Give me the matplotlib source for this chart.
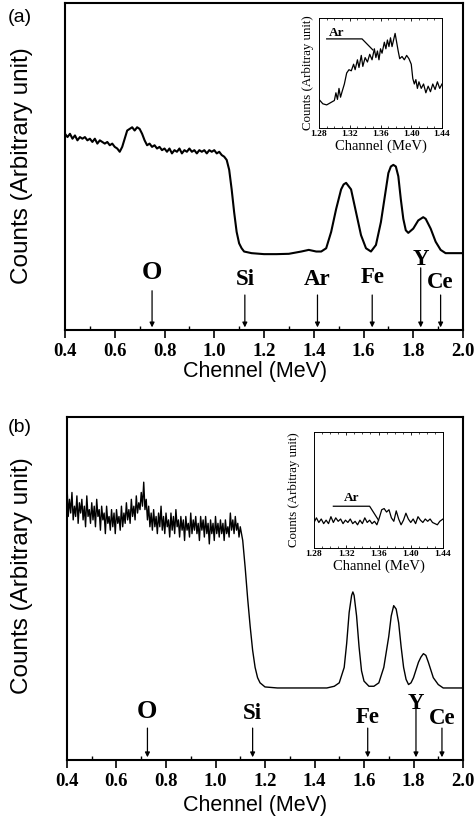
import matplotlib
matplotlib.use("Agg")
import matplotlib.pyplot as plt
from matplotlib.ticker import MultipleLocator

# ---- panel (a) spectrum ----
energy_a = [0.40, 0.41, 0.42, 0.43, 0.44, 0.45, 0.46, 0.47, 0.48, 0.49,
            0.50, 0.51, 0.52, 0.53, 0.54, 0.55, 0.56, 0.57, 0.58, 0.59,
            0.60, 0.61, 0.62, 0.63, 0.64, 0.65, 0.66, 0.67, 0.68, 0.69,
            0.70, 0.71, 0.72, 0.73, 0.74, 0.75, 0.76, 0.77, 0.78, 0.79,
            0.80, 0.81, 0.82, 0.83, 0.84, 0.85, 0.86, 0.87, 0.88, 0.89,
            0.90, 0.91, 0.92, 0.93, 0.94, 0.95, 0.96, 0.97, 0.98, 0.99,
            1.00, 1.01, 1.02, 1.03, 1.04, 1.05, 1.06, 1.07, 1.08, 1.09,
            1.10, 1.11, 1.12, 1.15, 1.20, 1.25, 1.30, 1.35, 1.38, 1.41,
            1.43, 1.45, 1.47, 1.49, 1.51, 1.52, 1.53, 1.54, 1.55, 1.57,
            1.59, 1.61, 1.63, 1.65, 1.67, 1.69, 1.70, 1.71, 1.72, 1.73,
            1.74, 1.75, 1.76, 1.77, 1.78, 1.80, 1.82, 1.84, 1.85, 1.87,
            1.89, 1.91, 1.93, 1.96, 2.00]
counts_a = [0.600, 0.590, 0.600, 0.585, 0.595, 0.580, 0.590, 0.585, 0.590, 0.580,
            0.585, 0.575, 0.585, 0.570, 0.580, 0.575, 0.570, 0.575, 0.565, 0.570,
            0.560, 0.555, 0.545, 0.560, 0.585, 0.610, 0.615, 0.620, 0.610, 0.620,
            0.615, 0.600, 0.580, 0.565, 0.570, 0.560, 0.565, 0.555, 0.560, 0.550,
            0.555, 0.545, 0.555, 0.540, 0.550, 0.545, 0.555, 0.540, 0.550, 0.545,
            0.555, 0.545, 0.550, 0.540, 0.550, 0.545, 0.550, 0.540, 0.550, 0.545,
            0.550, 0.540, 0.545, 0.535, 0.530, 0.520, 0.490, 0.430, 0.360, 0.300,
            0.265, 0.250, 0.240, 0.235, 0.232, 0.232, 0.233, 0.240, 0.245, 0.240,
            0.240, 0.250, 0.300, 0.370, 0.430, 0.445, 0.450, 0.440, 0.430, 0.360,
            0.290, 0.250, 0.240, 0.260, 0.330, 0.430, 0.480, 0.500, 0.505, 0.500,
            0.470, 0.400, 0.340, 0.305, 0.297, 0.310, 0.335, 0.345, 0.340, 0.310,
            0.270, 0.245, 0.235, 0.235, 0.235]

# ---- panel (b) spectrum: noisy plateau (0.005 MeV steps) then the edge/peaks ----
plateau_start_b = 0.40
plateau_step_b = 0.005
plateau_b = [0.80, 0.71, 0.76, 0.72, 0.78, 0.70, 0.74, 0.71, 0.77, 0.69,
             0.75, 0.72, 0.76, 0.70, 0.74, 0.68, 0.77, 0.71, 0.73, 0.69,
             0.75, 0.70, 0.74, 0.68, 0.76, 0.71, 0.73, 0.67, 0.74, 0.70,
             0.72, 0.66, 0.74, 0.69, 0.71, 0.67, 0.73, 0.68, 0.72, 0.66,
             0.73, 0.69, 0.71, 0.67, 0.74, 0.68, 0.72, 0.69, 0.75, 0.70,
             0.73, 0.69, 0.76, 0.71, 0.74, 0.70, 0.77, 0.72, 0.75, 0.73,
             0.78, 0.74, 0.81, 0.73, 0.76, 0.70, 0.74, 0.68, 0.72, 0.67,
             0.73, 0.68, 0.71, 0.66, 0.72, 0.68, 0.74, 0.67, 0.71, 0.66,
             0.72, 0.68, 0.70, 0.65, 0.72, 0.67, 0.71, 0.66, 0.73, 0.68,
             0.70, 0.65, 0.71, 0.67, 0.70, 0.64, 0.71, 0.67, 0.69, 0.65,
             0.72, 0.66, 0.70, 0.67, 0.71, 0.66, 0.69, 0.64, 0.71, 0.67,
             0.70, 0.65, 0.71, 0.66, 0.69, 0.63, 0.70, 0.66, 0.69, 0.64,
             0.71, 0.66, 0.69, 0.65, 0.70, 0.66, 0.69, 0.64, 0.70, 0.66,
             0.68, 0.65, 0.72, 0.67, 0.70, 0.66, 0.71, 0.67, 0.69, 0.65,
             0.68, 0.66, 0.64]
energy_b_tail = [1.12, 1.13, 1.14, 1.15, 1.16, 1.17, 1.18, 1.20,
                 1.25, 1.30, 1.40, 1.45, 1.48, 1.50, 1.52, 1.53, 1.54, 1.55,
                 1.555, 1.56, 1.57, 1.58, 1.59, 1.60, 1.62, 1.64, 1.66, 1.68,
                 1.70, 1.71, 1.72, 1.73, 1.74, 1.75, 1.76, 1.77, 1.78, 1.79,
                 1.80, 1.82, 1.83, 1.84, 1.85, 1.86, 1.88, 1.90, 1.92, 1.96,
                 2.00]
counts_b_tail = [0.56, 0.47, 0.39, 0.32, 0.27, 0.24, 0.225, 0.213,
                 0.210, 0.210, 0.210, 0.210, 0.215, 0.225, 0.270, 0.340, 0.430, 0.480,
                 0.490, 0.480, 0.420, 0.330, 0.260, 0.230, 0.215, 0.215, 0.225, 0.270,
                 0.360, 0.420, 0.450, 0.440, 0.400, 0.330, 0.270, 0.235, 0.220, 0.225,
                 0.240, 0.285, 0.300, 0.310, 0.305, 0.285, 0.240, 0.220, 0.210, 0.210,
                 0.210]

# ---- insets (Ar region) ----
inset_e_a = [1.280, 1.285, 1.290, 1.295, 1.300, 1.302, 1.304, 1.306, 1.308, 1.310,
             1.313, 1.316, 1.319, 1.322, 1.325, 1.327, 1.330, 1.332, 1.335, 1.337,
             1.340, 1.343, 1.346, 1.349, 1.352, 1.354, 1.356, 1.358, 1.360, 1.362,
             1.365, 1.367, 1.369, 1.371, 1.373, 1.375, 1.377, 1.379, 1.381, 1.383,
             1.385, 1.388, 1.391, 1.394, 1.397, 1.400, 1.402, 1.404, 1.406, 1.408,
             1.410, 1.413, 1.416, 1.419, 1.422, 1.425, 1.428, 1.431, 1.434, 1.437,
             1.440]
inset_c_a = [0.26, 0.22, 0.21, 0.23, 0.25, 0.32, 0.26, 0.36, 0.28, 0.33,
             0.40, 0.50, 0.53, 0.52, 0.58, 0.53, 0.62, 0.55, 0.66, 0.56,
             0.64, 0.60, 0.67, 0.62, 0.72, 0.64, 0.70, 0.62, 0.72, 0.68,
             0.78, 0.72, 0.80, 0.74, 0.82, 0.74, 0.80, 0.86, 0.78, 0.70,
             0.63, 0.65, 0.62, 0.66, 0.63, 0.58, 0.45, 0.40, 0.44, 0.36,
             0.42, 0.36, 0.40, 0.32, 0.38, 0.33, 0.40, 0.35, 0.42, 0.36,
             0.40]
inset_e_b = [1.280, 1.283, 1.286, 1.289, 1.292, 1.295, 1.298, 1.301, 1.304, 1.307,
             1.310, 1.313, 1.316, 1.319, 1.322, 1.325, 1.328, 1.331, 1.334, 1.337,
             1.340, 1.343, 1.346, 1.349, 1.352, 1.355, 1.358, 1.361, 1.364, 1.367,
             1.370, 1.373, 1.376, 1.379, 1.382, 1.385, 1.388, 1.391, 1.394, 1.397,
             1.400, 1.403, 1.406, 1.409, 1.412, 1.415, 1.418, 1.421, 1.424, 1.427,
             1.430, 1.433, 1.436, 1.440]
inset_c_b = [0.22, 0.26, 0.22, 0.25, 0.21, 0.24, 0.21, 0.27, 0.22, 0.26,
             0.23, 0.25, 0.21, 0.24, 0.22, 0.25, 0.21, 0.23, 0.20, 0.24,
             0.21, 0.26, 0.22, 0.24, 0.21, 0.23, 0.20, 0.26, 0.33, 0.34,
             0.31, 0.33, 0.26, 0.23, 0.32, 0.25, 0.20, 0.24, 0.30, 0.25,
             0.22, 0.25, 0.21, 0.27, 0.24, 0.22, 0.25, 0.23, 0.25, 0.22,
             0.21, 0.20, 0.23, 0.25]

# element markers: name, energy, arrow top, label y (axes fraction), font size
elements_a = [("O", 0.750, 0.12, 0.175, 19), ("Si", 1.123, 0.107, 0.153, 16.5),
              ("Ar", 1.415, 0.107, 0.153, 16.5), ("Fe", 1.635, 0.107, 0.160, 16.5),
              ("Y", 1.830, 0.19, 0.215, 16.5), ("Ce", 1.910, 0.107, 0.145, 16.5)]
elements_b = [("O", 0.725, 0.093, 0.140, 19), ("Si", 1.150, 0.093, 0.137, 16.5),
              ("Fe", 1.615, 0.093, 0.125, 16.5), ("Y", 1.810, 0.150, 0.166, 16.5),
              ("Ce", 1.915, 0.093, 0.122, 16.5)]

# "Ar" leader line inside the insets (x, y in inset data)
ar_line_a = ([1.290, 1.336, 1.350], [0.81, 0.81, 0.71])
ar_text_a = (1.303, 0.865)
ar_line_b = ([1.304, 1.349, 1.360], [0.36, 0.36, 0.24])
ar_text_b = (1.327, 0.43)

SERIF = ["Liberation Serif", "DejaVu Serif"]
SANS = ["Liberation Sans", "DejaVu Sans"]

energy_b = [round(plateau_start_b + i * plateau_step_b, 3) for i in range(len(plateau_b))] + energy_b_tail
counts_b = plateau_b + counts_b_tail

fig = plt.figure(figsize=(4.76, 8.25), dpi=100)


def main_panel(rect, energy, counts, elements, xlab_y, lw):
    ax = fig.add_axes(rect)
    ax.plot(energy, counts, color="black", lw=lw)
    ax.set_xlim(0.4, 2.0)
    ax.set_ylim(0, 1)
    ax.set_yticks([])
    ax.xaxis.set_minor_locator(MultipleLocator(0.1))
    ax.tick_params(axis="x", which="major", direction="out", length=6, width=1.2, pad=3)
    ax.tick_params(axis="x", which="minor", direction="in", length=3, width=1.0)
    ticks = [0.4, 0.6, 0.8, 1.0, 1.2, 1.4, 1.6, 1.8, 2.0]
    ax.set_xticks(ticks)
    ax.set_xticklabels([f"{t:.1f}" for t in ticks],
                       family=SERIF, fontweight="bold", fontsize=13.5)
    for s in ax.spines.values():
        s.set_linewidth(1.5)
    for name, e, top, ly, fs in elements:
        ax.annotate("", xy=(e, 0.008), xytext=(e, top),
                    xycoords=("data", "axes fraction"),
                    arrowprops=dict(arrowstyle="-|>", lw=0.9, color="black",
                                    mutation_scale=7, shrinkA=0, shrinkB=0))
        ax.text(e, ly, name, transform=ax.get_xaxis_transform(), ha="center",
                va="center", family=SERIF, fontweight="bold", fontsize=fs)
    fig.text(255 / 476, 1 - xlab_y / 825, "Chennel (MeV)", ha="center", va="center",
             family=SANS, fontsize=15.5)
    return ax


def inset(rect, energy, counts, line, txt, ylab_x):
    ax = fig.add_axes(rect)
    ax.plot(energy, counts, color="black", lw=0.9)
    ax.set_xlim(1.28, 1.44)
    ax.set_ylim(0, 1)
    ax.set_yticks([])
    ax.xaxis.set_minor_locator(MultipleLocator(0.01))
    ax.tick_params(axis="x", which="both", direction="in", top=True, pad=1.5)
    ax.tick_params(axis="x", which="major", length=2.5, width=0.6)
    ax.tick_params(axis="x", which="minor", length=1.5, width=0.5)
    ax.set_xticks([1.28, 1.32, 1.36, 1.40, 1.44])
    ax.set_xticklabels(["1.28", "1.32", "1.36", "1.40", "1.44"],
                       family=SERIF, fontweight="bold", fontsize=6.8)
    for s in ax.spines.values():
        s.set_linewidth(0.7)
    ax.set_xlabel("Channel (MeV)", family=SERIF, fontsize=10.5, labelpad=1)
    ax.plot(line[0], line[1], color="black", lw=0.9)
    ax.text(txt[0], txt[1], "Ar", ha="center", va="center", family=SERIF,
            fontweight="bold", fontsize=9.5)
    fig.text(ylab_x / 476, rect[1] + rect[3] / 2, "Counts (Arbitray unit)",
             rotation=90, ha="center", va="center", family=SERIF, fontsize=9.3)
    return ax


ax_a = main_panel([65 / 476, 1 - 330 / 825, 398 / 476, 327 / 825],
                  energy_a, counts_a, elements_a, 371, 1.5)
ax_b = main_panel([67 / 476, 1 - 760 / 825, 396 / 476, 343 / 825],
                  energy_b, counts_b, elements_b, 806, 1.0)

inset([319 / 476, 1 - 128 / 825, 123 / 476, 110 / 825],
      inset_e_a, inset_c_a, ar_line_a, ar_text_a, 308)
inset([314 / 476, 1 - 548 / 825, 129 / 476, 116 / 825],
      inset_e_b, inset_c_b, ar_line_b, ar_text_b, 294)

for yc in (166, 576):
    fig.text(22 / 476, 1 - yc / 825, "Counts (Arbitrary unit)", rotation=90,
             ha="center", va="center", family=SANS, fontsize=17.5)

fig.text(20 / 476, 1 - 17 / 825, "(a)", ha="center", va="center", family=SANS, fontsize=14)
fig.text(20 / 476, 1 - 428 / 825, "(b)", ha="center", va="center", family=SANS, fontsize=14)

fig.savefig("out.png", dpi=100)
